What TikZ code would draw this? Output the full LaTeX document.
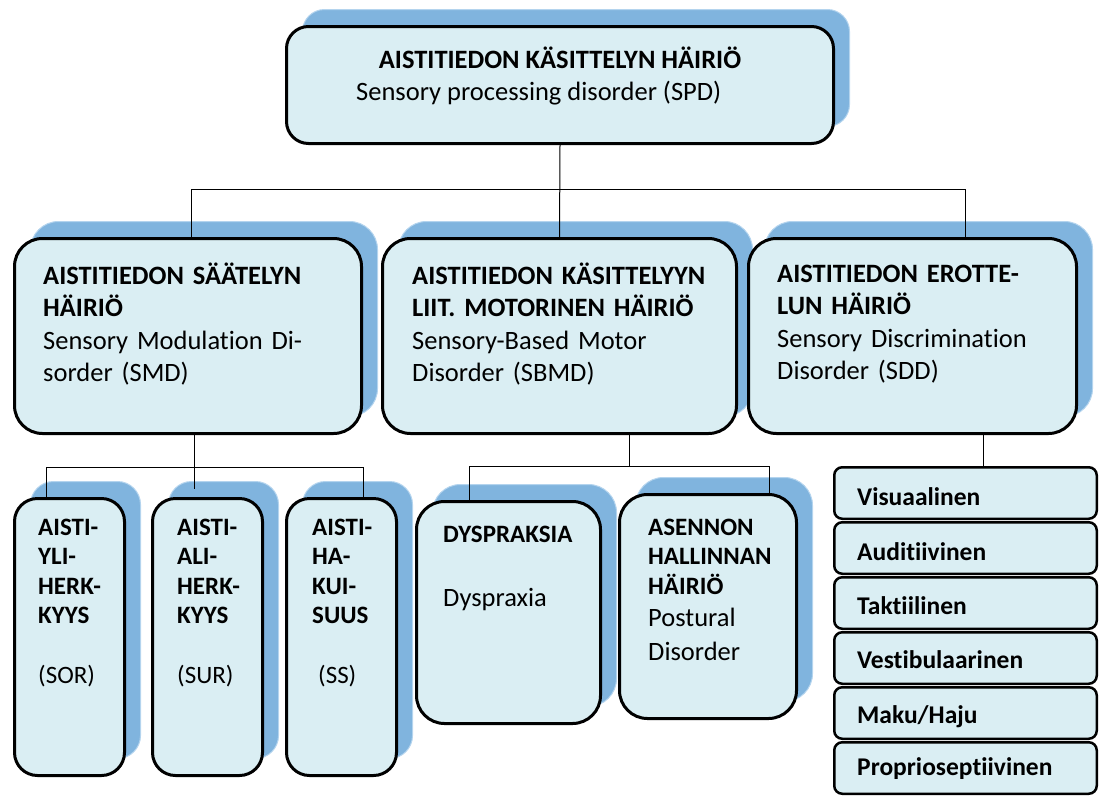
\documentclass[tikz,border=0pt]{standalone}
\usepackage{fontspec}
\setmainfont{Carlito}[Ligatures=NoCommon]
\usetikzlibrary{shadows}
\definecolor{front}{HTML}{DAEEF3}
\definecolor{shade}{HTML}{80B4DE}
\definecolor{shadeedge}{HTML}{B4D4EE}
\begin{document}
\begin{tikzpicture}[x=1pt,y=-1pt,
  box/.style={draw=black, line width=3pt, fill=front, rounded corners=#1, inner sep=0pt,
    general shadow={fill=shade, draw=shadeedge, line width=1pt, shadow xshift=16pt, shadow yshift=17pt}},
  box/.default=25pt,
  listbox/.style={draw=black, line width=2.5pt, fill=front, rounded corners=8pt, inner sep=0pt,
    minimum width=262.5pt, minimum height=51.5pt},
  big/.style={inner sep=0pt, anchor=base west, align=left, text width=360pt,
    font=\fontsize{26.5}{32.5}\selectfont},
  small/.style={inner sep=0pt, anchor=base west, align=left, text width=160pt,
    font=\fontsize{25}{29.5}\selectfont},
  listtext/.style={inner sep=0pt, anchor=base west, font=\fontsize{25.5}{30}\selectfont\bfseries},
  link/.style={line width=1pt, draw=black}
]
\useasboundingbox (0,0) rectangle (1100,801);

% boxes
\node[box=22pt, minimum width=547pt, minimum height=117pt] (spd) at (560,85) {};
\node[box=28pt, minimum width=347pt, minimum height=195pt] (smd) at (188,336) {};
\node[box=28pt, minimum width=354pt, minimum height=195pt] (sbmd) at (559.5,336) {};
\node[box=28pt, minimum width=328pt, minimum height=195pt] (sdd) at (912.5,336) {};
\node[box=23pt, minimum width=110pt, minimum height=277pt] (sor) at (69.5,637) {};
\node[box=23pt, minimum width=110pt, minimum height=277pt] (sur) at (207.5,637) {};
\node[box=23pt, minimum width=110pt, minimum height=277pt] (ss) at (341.5,637) {};
\node[box=28pt, minimum width=184pt, minimum height=222pt] (dys) at (508.5,612.5) {};
\node[box=28pt, minimum width=177pt, minimum height=224pt] (ase) at (708,606.5) {};

\node[listbox] (l1) at (965.5,493) {};
\node[listbox] (l2) at (965.5,548) {};
\node[listbox] (l3) at (965.5,603) {};
\node[listbox] (l4) at (965.5,658) {};
\node[listbox] (l5) at (965.5,713) {};
\node[listbox] (l6) at (965.5,768) {};

% texts
\node[inner sep=0pt, anchor=base, font=\fontsize{26.5}{32.5}\selectfont\bfseries] (spdA) at (560,68) {AISTITIEDON KÄSITTELYN HÄIRIÖ};
\node[inner sep=0pt, anchor=base west, font=\fontsize{26.5}{32.5}\selectfont] (spdB) at (356,100) {Sensory processing disorder (SPD)};

\node[big] (smdT) at (43,284) {\textbf{AISTITIEDON SÄÄTELYN}\\\textbf{HÄIRIÖ}\\Sensory Modulation Di-\\sorder (SMD)};
\node[big] (sbmdT) at (412,284) {\textbf{AISTITIEDON KÄSITTELYYN}\\\textbf{LIIT. MOTORINEN HÄIRIÖ}\\Sensory-Based Motor\\Disorder (SBMD)};
\node[big] (sddT) at (777,282) {\textbf{AISTITIEDON EROTTE-}\\\textbf{LUN HÄIRIÖ}\\Sensory Discrimination\\Disorder (SDD)};

\node[small] (sorT) at (38,535) {\textbf{AISTI-}\\\textbf{YLI-}\\\textbf{HERK-}\\\textbf{KYYS}\\[30pt](SOR)};
\node[small] (surT) at (177,535) {\textbf{AISTI-}\\\textbf{ALI-}\\\textbf{HERK-}\\\textbf{KYYS}\\[30pt](SUR)};
\node[small] (ssT) at (312,535) {\textbf{AISTI-}\\\textbf{HA-}\\\textbf{KUI-}\\\textbf{SUUS}\\[30pt]\hspace*{6pt}(SS)};

\node[small] (dysT) at (443,542) {\textbf{DYSPRAKSIA}\\[35pt]\fontsize{26.5}{29.5}\selectfont Dyspraxia};
\node[small] (aseT) at (648,535) {\textbf{ASENNON}\\\textbf{HALLINNAN}\\\textbf{HÄIRIÖ}\\[3pt]\fontsize{26.5}{29.5}\selectfont Postural\\[4pt]Disorder};

\node[listtext] (t1) at (857,505) {Visuaalinen};
\node[listtext] (t2) at (857,560) {Auditiivinen};
\node[listtext] (t3) at (857,614) {Taktiilinen};
\node[listtext] (t4) at (857,668) {Vestibulaarinen};
\node[listtext] (t5) at (857,723) {Maku/Haju};
\node[listtext] (t6) at (857,775) {Proprioseptiivinen};

% connectors
\coordinate (h0) at (191,189);
\coordinate (h1) at (965,189);
\draw[link] (spd.south) -- (sbmd.north);
\draw[link] (smd.north -| h0) |- (h1) -- (sdd.north -| h1);

\coordinate (s0) at (46,467);
\coordinate (s1) at (194,467);
\coordinate (s2) at (363,467);
\coordinate (s1e) at (194,489);
\draw[link] (s1 |- smd.south) -- (s1e);
\draw[link] (sor.north -| s0) -- (s0) -- (s2) -- (ss.north -| s2);

\coordinate (m0) at (469,466);
\coordinate (m1) at (629,466);
\coordinate (m2) at (769,466);
\draw[link] (m1 |- sbmd.south) -- (m1);
\draw[link] (dys.north -| m0) -- (m0) -- (m2) -- (ase.north -| m2);

\coordinate (d0) at (983,450);
\draw[link] (d0 |- sdd.south) -- (d0 |- l1.north);
\end{tikzpicture}
\end{document}
